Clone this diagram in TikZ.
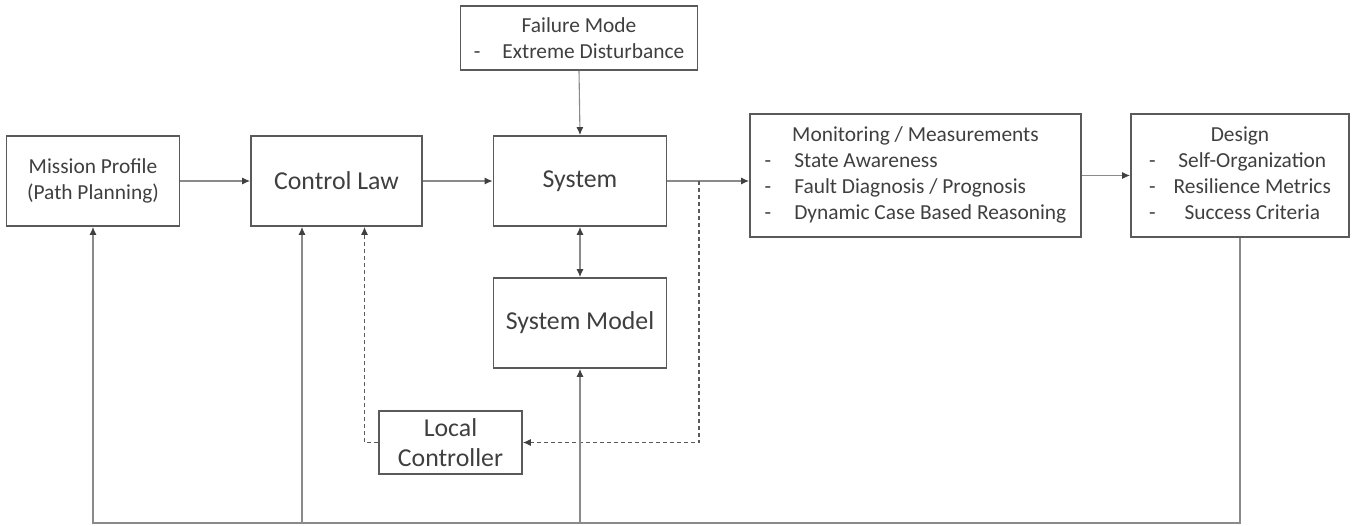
\documentclass[tikz,border=0pt]{standalone}
\usepackage{fontspec}
\setmainfont{Carlito}
\usetikzlibrary{arrows.meta}
\definecolor{txtgray}{HTML}{3F3F3F}
\definecolor{boxgray}{HTML}{5A5A5A}
\definecolor{linegray}{HTML}{8A8A8A}
\begin{document}
\begin{tikzpicture}[x=0.5pt,y=-0.5pt,
    blk/.style={draw=boxgray,line width=0.9pt,text=txtgray,align=center,inner sep=0pt,
                font=\fontsize{10.7}{13}\selectfont},
    big/.style={font=\fontsize{12.9}{15}\selectfont},
    tip/.tip={Latex[length=4pt,width=3.5pt,color=black!75]},
    con/.style={draw=linegray,line width=0.55pt,-tip},
    fbk/.style={con,draw=boxgray,dash pattern=on 2pt off 1.5pt}]
            \useasboundingbox (0,0) rectangle (1352,525);
            % boxes
            \node [blk,minimum width=118.5pt,minimum height=32pt] (fail) at (579,38)
                {Failure Mode\\ -\hspace{11pt}Extreme Disturbance};
            \node [blk,minimum width=86.5pt,minimum height=45pt] (mission) at (93,181)
                {Mission Profile\\(Path Planning)};
            \node [blk,big,minimum width=85.5pt,minimum height=45pt] (control) at (336.5,181) {Control Law};
            \node [blk,big,minimum width=86.5pt,minimum height=45pt] (system) at (580,181) {System};
            \node [blk,big,minimum width=86.5pt,minimum height=45pt] (model) at (580,323) {System Model};
            \node [blk,big,minimum width=71.5pt,minimum height=31.5pt] (local) at (450.5,442.5)
                {Local\\Controller};
            \node [blk,minimum width=165.5pt,minimum height=61.5pt] (monitor) at (915.5,175.5)
                {\begin{tabular}{@{}l@{\hspace{11.5pt}}l@{}}
                 \multicolumn{2}{c}{Monitoring / Measurements}\\
                 - & State Awareness\\
                 - & Fault Diagnosis / Prognosis\\
                 - & Dynamic Case Based Reasoning
                 \end{tabular}};
            \node [blk,minimum width=109pt,minimum height=61.5pt] (design) at (1240,175.5)
                {\begin{tabular}{@{}l@{\hspace{9pt}}c@{}}
                 \multicolumn{2}{c}{Design}\\
                 - & Self-Organization\\
                 - & Resilience Metrics\\
                 - & Success Criteria
                 \end{tabular}};
            % forward path
            \draw [con] (mission.east) -- (control.west);
            \draw [con] (control.east) -- (system.west);
            \draw [con] (system.east) -- (system.east -| monitor.west);
            \draw [con] (monitor.east) -- (monitor.east -| design.west);
            \draw [con] (fail.south) -- (system.north);
            \draw [con,tip-tip] (system.south) -- (model.north);
            % local loop
            \coordinate (tap) at (699,181);
            \coordinate (lcin) at ([xshift=14pt]control.south);
            \draw [fbk] (tap) |- (local.east);
            \draw [fbk] (local.west) -| (lcin);
            % outer loop
            \coordinate (fb) at (1240,523);
            \coordinate (clin) at ([xshift=-17.25pt]control.south);
            \draw [con] (design.south) |- (fb -| mission.south) -- (mission.south);
            \draw [con] (fb -| clin) -- (clin);
            \draw [con] (fb -| model.south) -- (model.south);
        \end{tikzpicture}
\end{document}
